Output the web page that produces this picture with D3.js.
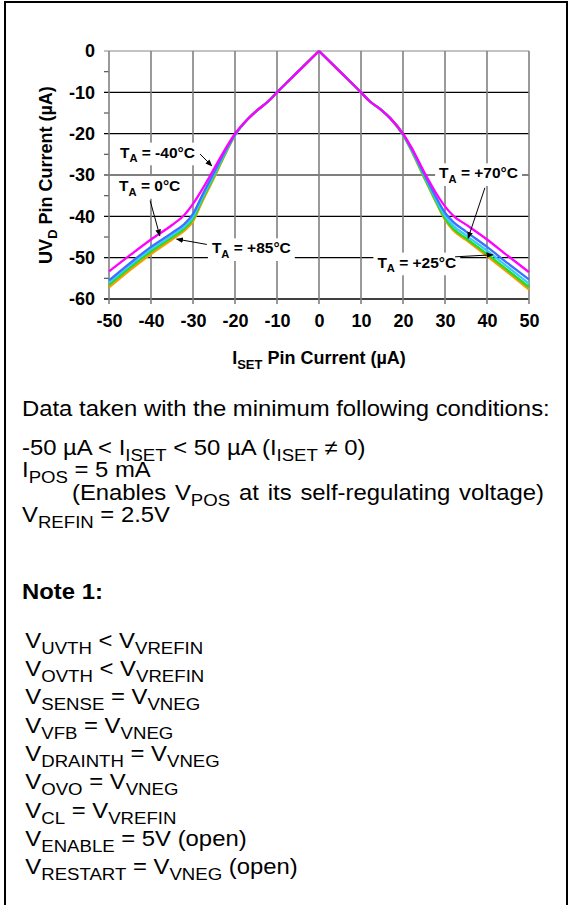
<!DOCTYPE html>
<html><head><meta charset="utf-8">
<script src="https://cdn.jsdelivr.net/npm/d3@7"></script>
<style>
html,body{margin:0;padding:0;background:#fff;}
svg{display:block;font-family:Arial,"Liberation Sans",sans-serif;}
</style></head>
<body><svg id="c" width="571" height="905"></svg>
<script>
// ---- data ----
const xTicks = [-50,-40,-30,-20,-10,0,10,20,30,40,50];
const yTicks = [0,-10,-20,-30,-40,-50,-60];
const iset = [-50,-45,-40,-35,-32,-30,-28,-25,-22,-20,-17,-15,-12,-10,-5,0,5,10,12,15,17,20,22,25,28,30,32,35,40,45,50];
const mid = [-16.5,-14.6,-12.1,-10,-5,0,-5,-10,-12.1,-14.4,-16.3];
const tM40 = [-53.3,-49.4,-45.6,-42.1,-39.6,-37.0,-33.8,-28.5,-23.2,-20.0, ...mid, -20.0,-23.3,-29.2,-34.6,-37.6,-39.9,-42.0,-45.6,-49.6,-53.5];
const t0   = [-55.5,-51.3,-47.4,-44.0,-41.8,-39.4,-35.3,-29.4,-23.6,-20.2, ...mid, -20.1,-23.6,-29.7,-35.6,-39.1,-41.4,-43.7,-47.4,-51.4,-55.3];
const t25  = [-56.0,-51.8,-47.9,-44.5,-42.4,-40.1,-35.9,-29.9,-23.9,-20.3, ...mid, -20.2,-23.8,-30.0,-36.2,-39.9,-42.3,-44.6,-48.3,-52.3,-56.3];
const t70  = [-56.6,-52.4,-48.5,-45.1,-42.9,-40.7,-36.4,-30.3,-24.1,-20.3, ...mid, -20.3,-24.0,-30.4,-36.7,-40.5,-43.0,-45.3,-49.1,-53.1,-57.1];
const t85  = [-57.2,-53.0,-49.1,-45.6,-43.4,-41.2,-36.9,-30.7,-24.3,-20.4, ...mid, -20.3,-24.1,-30.6,-36.9,-40.8,-43.4,-45.7,-49.6,-53.6,-57.7];
const seriesNames = ["-40°C","0°C","+25°C","+70°C","+85°C"];
const seriesVals = [tM40,t0,t25,t70,t85];
const seriesColors = ["#ff00ff","#3f6fff","#33ccff","#22dd22","#ff9900"];

// annotations: label text, label anchor (data), arrow start, arrow end (data)
const annLabels = ["-40°C","0°C","+85°C","+70°C","+25°C"];
const annPos = [[-47.4,-25.8],[-47.6,-33.9],[-25.5,-48.95],[28.6,-30.8],[13.9,-52.4]];
const annArrowFrom = [[-28.3,-24.95],[-40.2,-36.2],[-26.7,-46.8],[39.5,-33.1],[32.4,-49.8]];
const annArrowTo = [[-25.5,-27.8],[-37.9,-44.7],[-33.9,-45.5],[35.5,-45.3],[41.4,-49.3]];

// ---- drawing ----
const svg = d3.select("#c");
const L=109,R=529,T=51,B=299;
const x = d3.scaleLinear().domain([-50,50]).range([L,R]);
const y = d3.scaleLinear().domain([-60,0]).range([B,T]);

// outer frame
svg.append("path").attr("d",`M5,905 V2 H567 V905`).attr("fill","none").attr("stroke","#000").attr("stroke-width",2);

function richText(sel, parts, size, bold, subScale, subDrop){
  subScale = subScale||0.72; subDrop = subDrop||0.28;
  const t = sel.append("text").attr("font-size",size).attr("font-weight",bold?"bold":"normal").attr("fill","#000");
  parts.forEach(p=>{
    if(p[1]){
      t.append("tspan").attr("font-size",size*subScale).attr("dy",size*subDrop).text(p[0]);
    } else {
      const ts = t.append("tspan").text(p[0]);
      if(p[2]) ts.attr("dy",-size*subDrop);
    }
  });
  return t;
}

const g = svg.append("g");
// minor ticks
g.selectAll("line.minor").data(d3.range(-55,0,10)).join("line")
  .attr("x1",L-5).attr("x2",L).attr("y1",d=>y(d)).attr("y2",d=>y(d)).attr("stroke","#555").attr("stroke-width",1.2);
// horizontal grid
g.selectAll("line.hg").data(yTicks).join("line")
  .attr("x1",L-5).attr("x2",R).attr("y1",d=>y(d)).attr("y2",d=>y(d))
  .attr("stroke",d=>d===0?"#888":"#000").attr("stroke-width",d=>d===-60?1.6:1.1);
// vertical grid
g.selectAll("line.vg").data(xTicks).join("line")
  .attr("x1",d=>x(d)).attr("x2",d=>x(d)).attr("y1",T).attr("y2",B+5)
  .attr("stroke","#808080").attr("stroke-width",1.6);

// axes labels via d3 axes
const fmt = d=>String(d);
const ax = svg.append("g").attr("transform",`translate(0,${B})`)
  .call(d3.axisBottom(x).tickValues(xTicks).tickSize(0).tickPadding(15).tickFormat(fmt));
ax.select(".domain").remove();
ax.selectAll("text").attr("font-size",18).attr("font-weight","bold").attr("fill","#000").attr("font-family","Arial,'Liberation Sans',sans-serif");
const ay = svg.append("g").attr("transform",`translate(${L},0)`)
  .call(d3.axisLeft(y).tickValues(yTicks).tickSize(0).tickPadding(14).tickFormat(fmt));
ay.select(".domain").remove();
ay.selectAll("text").attr("font-size",18).attr("font-weight","bold").attr("fill","#000").attr("font-family","Arial,'Liberation Sans',sans-serif");

const annG = svg.append("g");
const defs = svg.append("defs");
defs.append("marker").attr("id","ah").attr("viewBox","0 0 10 10").attr("refX",9).attr("refY",5)
  .attr("markerWidth",7).attr("markerHeight",7).attr("orient","auto-start-reverse")
  .append("path").attr("d","M0,1 L10,5 L0,9 z").attr("fill","#000");

annLabels.forEach((lab,i)=>{
  const t = richText(annG,[["T"],["A",true],[" = "+lab,false,true]],15.5,true,0.72,0.3)
    .attr("x",x(annPos[i][0])).attr("y",y(annPos[i][1]));
  const bb = t.node().getBBox();
  annG.insert("rect",()=>t.node()).attr("x",bb.x-4).attr("y",bb.y-1).attr("width",bb.width+8).attr("height",bb.height+2).attr("fill","#fff");
});

// series lines
const lineL = d3.line().x(d=>x(d[0])).y(d=>y(d[1])).curve(d3.curveMonotoneX);
const linesG = svg.append("g");
for(let s=seriesVals.length-1;s>=0;s--){
  const pts = iset.map((v,i)=>[v,seriesVals[s][i]]);
  const left = pts.filter(p=>p[0]<=0), right = pts.filter(p=>p[0]>=0);
  [left,right].forEach(p=>{
    linesG.append("path").attr("d",lineL(p)).attr("fill","none").attr("stroke",seriesColors[s]).attr("stroke-width",2.3).attr("stroke-linejoin","round");
  });
}
// arrows
annLabels.forEach((lab,i)=>{
  svg.append("line").attr("x1",x(annArrowFrom[i][0])).attr("y1",y(annArrowFrom[i][1]))
    .attr("x2",x(annArrowTo[i][0])).attr("y2",y(annArrowTo[i][1]))
    .attr("stroke","#000").attr("stroke-width",1).attr("marker-end","url(#ah)");
});

// axis titles
richText(svg,[["I"],["SET",true],[" Pin Current (µA)",false,true]],18,true)
  .attr("text-anchor","middle").attr("x",319).attr("y",364);
richText(svg,[["UV"],["D",true],[" Pin Current (µA)",false,true]],18,true)
  .attr("text-anchor","middle").attr("transform","translate(52,175) rotate(-90)");

// notes block (horizontally widened like the reference)
const notes = svg.append("g").attr("transform","translate(22,0) scale(1.11,1)");
const fs = 21.5;
const noteLines = [
  {x:0,y:416,parts:[["Data taken with the minimum following conditions:"]]},
  {x:0,y:455,parts:[["-50 µA < I"],["ISET",true],[" < 50 µA (I",false,true],["ISET",true],[" ≠ 0)",false,true]]},
  {x:0,y:477,parts:[["I"],["POS",true],[" = 5 mA",false,true]]},
  {x:45,y:500,ws:2,parts:[["(Enables V"],["POS",true],[" at its self-regulating voltage)",false,true]]},
  {x:0,y:522,parts:[["V"],["REFIN",true],[" = 2.5V",false,true]]},
  {x:3,y:648,parts:[["V"],["UVTH",true],[" < V",false,true],["VREFIN",true]]},
  {x:3,y:676,parts:[["V"],["OVTH",true],[" < V",false,true],["VREFIN",true]]},
  {x:3,y:704,parts:[["V"],["SENSE",true],[" = V",false,true],["VNEG",true]]},
  {x:3,y:733,parts:[["V"],["VFB",true],[" = V",false,true],["VNEG",true]]},
  {x:3,y:761,parts:[["V"],["DRAINTH",true],[" = V",false,true],["VNEG",true]]},
  {x:3,y:789,parts:[["V"],["OVO",true],[" = V",false,true],["VNEG",true]]},
  {x:3,y:818,parts:[["V"],["CL",true],[" = V",false,true],["VREFIN",true]]},
  {x:3,y:846,parts:[["V"],["ENABLE",true],[" = 5V (open)",false,true]]},
  {x:3,y:874,parts:[["V"],["RESTART",true],[" = V",false,true],["VNEG",true],[" (open)",false,true]]}
];
noteLines.forEach(l=>{
  const t = richText(notes,l.parts,fs,false,0.78,0.28).attr("x",l.x).attr("y",l.y);
  if(l.ws) t.attr("word-spacing",l.ws);
});
notes.append("text").attr("x",0).attr("y",599).attr("font-size",fs).attr("font-weight","bold").text("Note 1:");
</script></body></html>
